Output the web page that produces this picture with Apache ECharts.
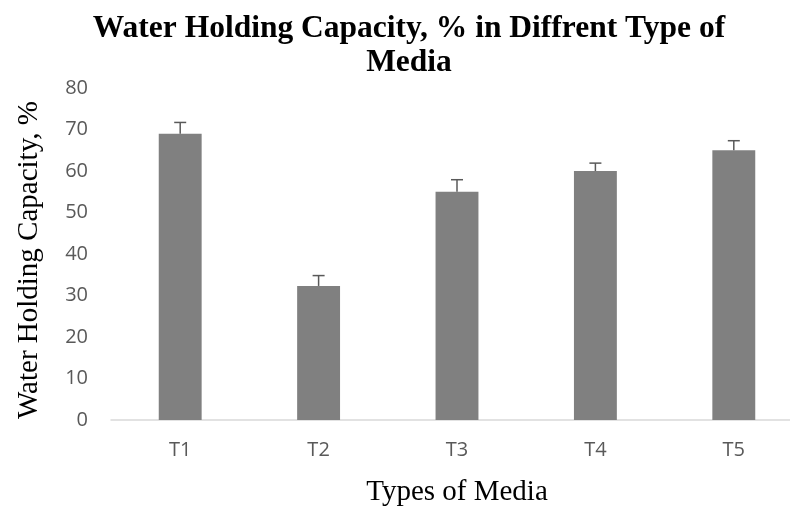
<!DOCTYPE html>
<html><head><meta charset="utf-8">
<script src="https://cdn.jsdelivr.net/npm/echarts@6/dist/echarts.min.js"></script>
<style>html,body{margin:0;padding:0;background:#fff}#c{width:790px;height:506px}</style>
</head><body><div id="c"></div>
<script>
var categories = ['T1', 'T2', 'T3', 'T4', 'T5'];
var values = [69, 32.3, 55, 60, 65];
var errors = [2.7, 2.5, 2.9, 1.9, 2.3];
var yTicks = { min: 0, max: 80, interval: 10 };

var chart = echarts.init(document.getElementById('c'));
chart.setOption({
  animation: false,
  backgroundColor: '#fff',
  title: {
    text: 'Water Holding Capacity, % in Diffrent Type of\nMedia',
    left: 404, top: 7, textAlign: 'center',
    textStyle: { fontFamily: 'Liberation Serif', fontWeight: 'bold', fontSize: 31.5, color: '#000', lineHeight: 34 }
  },
  grid: { left: 111, right: -13, top: 88, bottom: 86, outerBoundsMode: 'none', containLabel: false },
  xAxis: {
    type: 'category', data: categories,
    axisLine: { lineStyle: { color: '#d9d9d9', width: 1.5 } },
    axisTick: { show: false },
    axisLabel: { color: '#595959', fontFamily: 'Open Sans', fontSize: 20, margin: 20 },
    name: 'Types of Media', nameLocation: 'middle', nameGap: 58,
    nameTextStyle: { fontFamily: 'Liberation Serif', fontSize: 29, color: '#000' }
  },
  yAxis: {
    type: 'value', min: yTicks.min, max: yTicks.max, interval: yTicks.interval,
    axisLine: { show: false }, axisTick: { show: false }, splitLine: { show: false },
    axisLabel: { color: '#595959', fontFamily: 'Open Sans', fontSize: 20, margin: 23 },
    name: 'Water Holding Capacity, %', nameLocation: 'middle', nameGap: 67,
    nameTextStyle: { fontFamily: 'Liberation Serif', fontSize: 29, color: '#000', padding: [0, 12, 0, 0] }
  },
  series: [
    {
      type: 'bar', data: values, barWidth: '31%',
      itemStyle: { color: '#808080' }
    },
    {
      type: 'custom',
      data: categories.map(function (c, i) { return [i, values[i], values[i] + errors[i]]; }),
      renderItem: function (params, api) {
        var x = api.value(0);
        var p0 = api.coord([x, api.value(1)]);
        var p1 = api.coord([x, api.value(2)]);
        var hw = 6;
        return {
          type: 'group',
          children: [
            { type: 'line', shape: { x1: p0[0], y1: p0[1], x2: p1[0], y2: p1[1] }, style: { stroke: '#595959', lineWidth: 1.5 } },
            { type: 'line', shape: { x1: p1[0] - hw, y1: p1[1], x2: p1[0] + hw, y2: p1[1] }, style: { stroke: '#595959', lineWidth: 1.5 } }
          ]
        };
      },
      z: 3
    }
  ]
});
</script></body></html>
